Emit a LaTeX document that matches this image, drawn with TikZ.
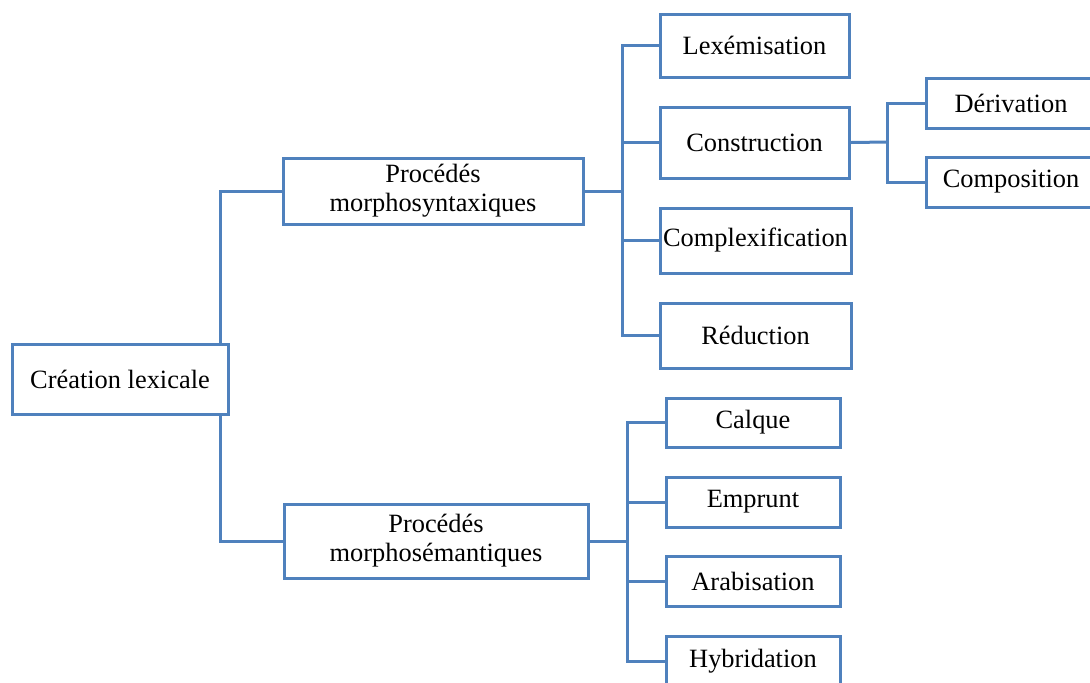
\documentclass[tikz,border=0pt]{standalone}
\usepackage{fontspec}
\setmainfont{Liberation Serif}
\usepackage{xcolor}
\definecolor{boxblue}{RGB}{79,129,189}

\tikzset{
	box/.style={draw=boxblue, line width=1.5pt, fill=white, align=center,
		inner sep=0pt, font=\fontsize{13.2}{14.5}\selectfont},
	link/.style={draw=boxblue, line width=1.5pt, line cap=rect},
}

\begin{document}
\begin{tikzpicture}[x=0.5pt, y=-0.5pt]
		\useasboundingbox (0,0) rectangle (1090,682);
		% root and first level
		\node[box, minimum width=108pt, minimum height=35pt] (creation) at (120,379) {Création lexicale};
		\node[box, minimum width=150pt, minimum height=33pt] (msyn) at (433,191) {Procédés\\morphosyntaxiques};
		\node[box, minimum width=152pt, minimum height=37pt] (msem) at (436,541) {Procédés\\morphosémantiques};
		% morphosyntaxiques
		\node[box, minimum width=94.5pt, minimum height=31.5pt] (lex) at (754.5,45.5) {Lexémisation};
		\node[box, minimum width=94.5pt, minimum height=35.5pt] (cons) at (754.5,142.5) {Construction};
		\node[box, minimum width=95.5pt, minimum height=32.5pt] (cplx) at (755.5,240.5) {Complexification};
		\node[box, minimum width=95.5pt, minimum height=32.5pt] (red) at (755.5,335.5) {Réduction};
		\node[box, minimum width=85pt, minimum height=25pt] (deriv) at (1011,103) {Dérivation};
		\node[box, minimum width=85pt, minimum height=25pt] (compo) at (1011,182) {Composition};
		% morphosemantiques
		\node[box, minimum width=87pt, minimum height=24.5pt] (calque) at (753,422.5) {Calque};
		\node[box, minimum width=87pt, minimum height=25pt] (emprunt) at (753,502) {Emprunt};
		\node[box, minimum width=87pt, minimum height=25pt] (arab) at (753,581) {Arabisation};
		\node[box, minimum width=87pt, minimum height=25pt] (hybr) at (753,661) {Hybridation};

		\coordinate (b1) at (622,191);
		\coordinate (b2) at (887,142);
		\coordinate (b3) at (627,541);

		\draw[link] ([xshift=-4.5pt]creation.north east) |- (msyn.west);
		\draw[link] ([xshift=-4.5pt]creation.south east) |- (msem.west);

		\draw[link] (msyn.east) -- (b1);
		\draw[link] (b1 |- lex.west) -- (b1 |- red.west);
		\foreach \n in {lex,cons,cplx,red}
			\draw[link] (b1 |- \n.west) -- (\n.west);

		\draw[link] (cons.east) -- (b2);
		\draw[link] (b2 |- deriv.west) -- (b2 |- compo.west);
		\foreach \n in {deriv,compo}
			\draw[link] (b2 |- \n.west) -- (\n.west);

		\draw[link] (msem.east) -- (b3);
		\draw[link] (b3 |- calque.west) -- (b3 |- hybr.west);
		\foreach \n in {calque,emprunt,arab,hybr}
			\draw[link] (b3 |- \n.west) -- (\n.west);
\end{tikzpicture}
\end{document}
